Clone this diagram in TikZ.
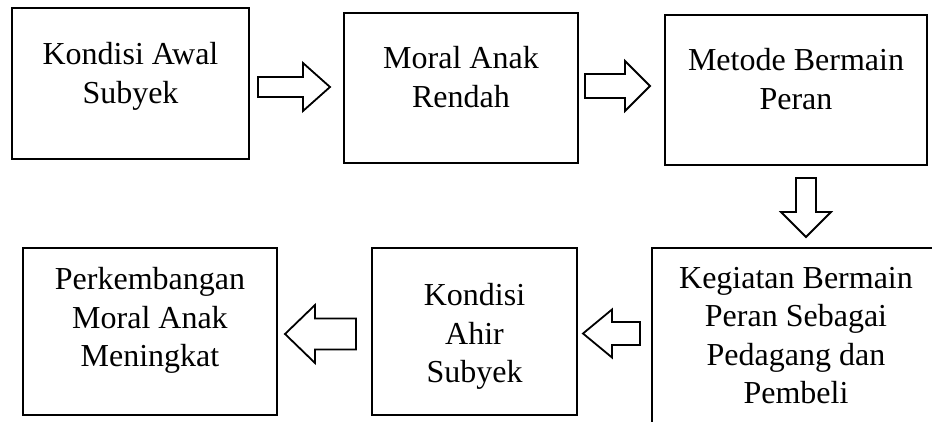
\documentclass[tikz,border=0pt]{standalone}
\usepackage{fontspec}
\setmainfont{Liberation Serif}
\usetikzlibrary{calc,positioning}
\tikzset{
  kotak/.style={draw, line width=2.6pt, outer sep=0pt, inner sep=0pt},
  teks/.style={align=center, inner sep=0pt, anchor=north, font=\fontsize{32}{38.5}\selectfont},
  panah/.style={draw, line width=1.8pt, fill=white, line join=miter},
}
% block arrow: tail point, angle, length, head length, head half width, shaft half width
\newcommand{\blockarr}[6]{%
  \draw[panah, shift={#1}, rotate=#2] (0,-#6) -- ({#3-#4},-#6) -- ({#3-#4},-#5) -- (#3,0)
    -- ({#3-#4},#5) -- ({#3-#4},#6) -- (0,#6) -- cycle;}
\begin{document}
\begin{tikzpicture}[x=1pt, y=1pt]
  \clip (0,0) rectangle (932,421);
  \useasboundingbox (0,0) rectangle (932,421);
  % top row
  \node[kotak, minimum width=237pt, minimum height=151pt] (k1) at (130.5,337.5) {};
  \node[kotak, minimum width=234pt, minimum height=150pt] (k2) at (461,333) {};
  \node[kotak, minimum width=262pt, minimum height=150pt] (k3) at (796,331) {};
  % bottom row
  \node[kotak, minimum width=254pt, minimum height=167pt] (k4) at (150,89.5) {};
  \node[kotak, minimum width=205pt, minimum height=167pt] (k5) at (474.5,89.5) {};
  \node[kotak, minimum width=288pt, minimum height=192pt] (k6) at (796,77) {};
  % texts
  \node[teks] (t1) at ($(k1.north)+(0,-34.4)$) {Kondisi Awal\\Subyek};
  \node[teks] (t2) at ($(k2.north)+(0,-33.1)$) {Moral Anak\\Rendah};
  \node[teks] (t3) at ($(k3.north)+(0,-33.1)$) {Metode Bermain\\Peran};
  \node[teks] (t4) at ($(k4.north)+(0,-19.1)$) {Perkembangan\\Moral Anak\\Meningkat};
  \node[teks] (t5) at ($(k5.north)+(0,-35.1)$) {Kondisi\\Ahir\\Subyek};
  \node[teks] (t6) at ($(k6.north)+(0,-19.1)$) {Kegiatan Bermain\\Peran Sebagai\\Pedagang dan\\Pembeli};
  % arrows
  \blockarr{($(k1.east)+(9,-3.5)$)}{0}{72}{27}{24}{10}
  \blockarr{($(k2.east)+(7,2)$)}{0}{65}{25}{25}{12}
  \blockarr{($(k3.south)+(10,-13)$)}{-90}{59}{25}{25}{10}
  \blockarr{($(k6.west)+(-12,10.5)$)}{180}{57}{29}{24}{11.5}
  \blockarr{($(k5.west)+(-16,-2.5)$)}{180}{71}{30}{29}{15.5}
\end{tikzpicture}
\end{document}
